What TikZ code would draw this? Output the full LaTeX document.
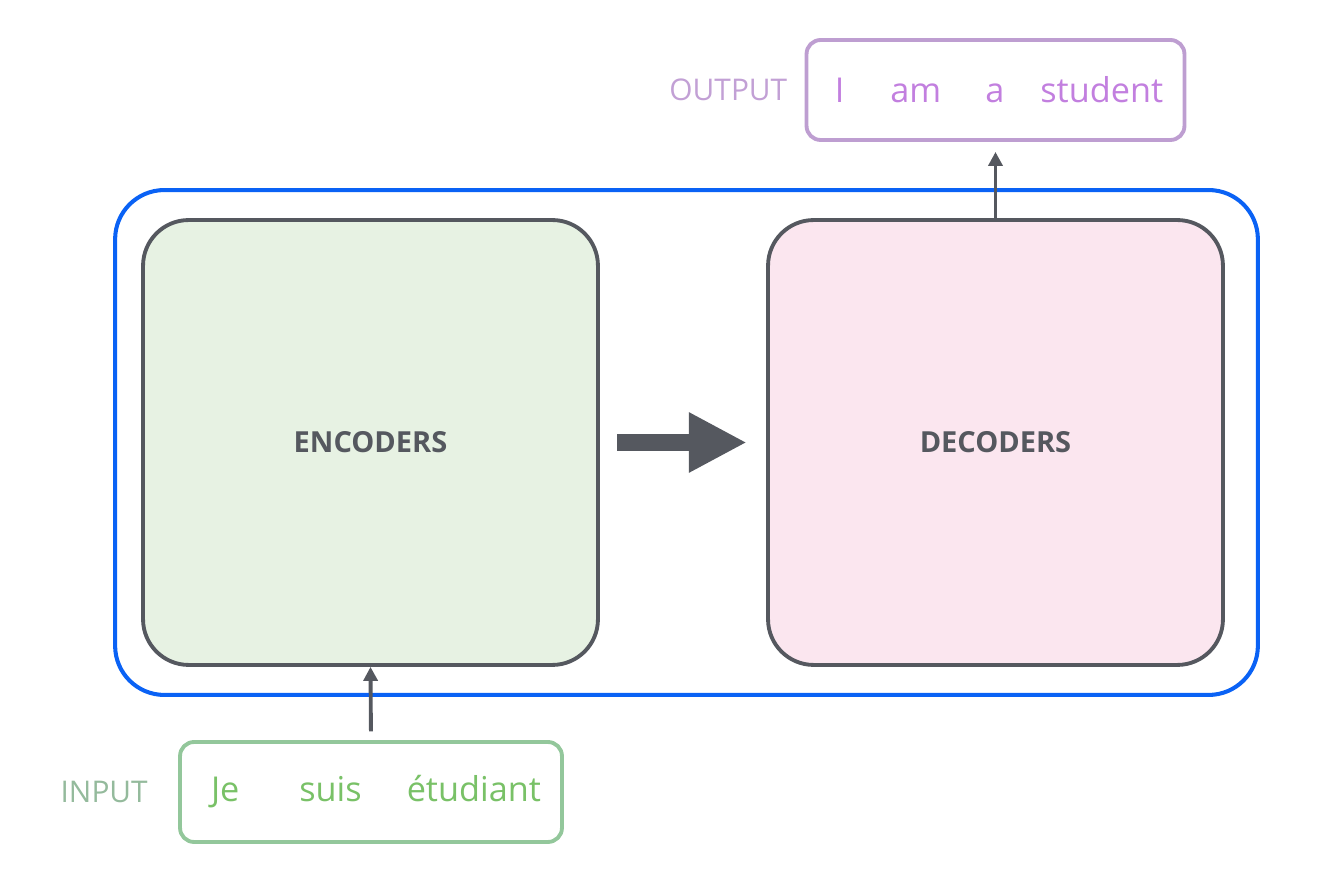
\documentclass[tikz,border=0pt]{standalone}
\usepackage{fontspec}
\setmainfont{Open Sans}
\usepackage{xcolor}
\definecolor{wrapblue}{HTML}{0A62F5}
\definecolor{blockgray}{HTML}{55585F}
\definecolor{encfill}{HTML}{E7F2E3}
\definecolor{decfill}{HTML}{FBE6EF}
\definecolor{ingreen}{HTML}{93C79B}
\definecolor{intext}{HTML}{79C167}
\definecolor{inlabel}{HTML}{94BA9C}
\definecolor{outpurple}{HTML}{BE9ED1}
\definecolor{outtext}{HTML}{C27FDF}
\definecolor{outlabel}{HTML}{C2A0D5}
\usetikzlibrary{arrows.meta,positioning}

\begin{document}
\begin{tikzpicture}[x=0.02cm, y=-0.02cm,
    wrap/.style={rectangle, rounded corners=28pt, draw=wrapblue, line width=2.3pt, minimum width=22.86cm, minimum height=10.1cm},
    block/.style={rectangle, rounded corners=26pt, draw=blockgray, line width=2.2pt, minimum width=9.1cm, minimum height=8.9cm, text=blockgray, font=\fontsize{16.5}{20}\selectfont\bfseries},
    seqbox/.style={rectangle, rounded corners=8pt, line width=2.2pt, minimum height=2cm, inner sep=0pt, font=\fontsize{19.5}{23}\selectfont},
    seqlabel/.style={inner sep=0pt, font=\fontsize{17}{20}\selectfont},
    flow/.style={-{Triangle[length=8pt, width=8pt]}, blockgray, line width=2.2pt},
    bigflow/.style={-{Triangle[length=33pt, width=32pt]}, blockgray, line width=9.6pt}
  ]
    \useasboundingbox (0,0) rectangle (1320,884);

    \node[wrap] (model) at (686.5,442.5) {};
    \node[block, fill=encfill] (enc) at (370.5,442.5) {ENCODERS};
    \node[block, fill=decfill] (dec) at (995.5,442.5) {DECODERS};

    \node[seqbox, draw=ingreen, text=intext, minimum width=7.64cm] (input) at (371,792) {\hspace*{0.2cm}Je\hspace{1.2cm}suis\hspace{0.9cm}étudiant};
    \node[seqlabel, text=inlabel, left=0.6cm of input] (inlbl) {INPUT};

    \node[seqbox, draw=outpurple, text=outtext, minimum width=7.56cm] (output) at (995.5,90) {\hspace*{0.14cm}I\hspace{0.92cm}am\hspace{0.88cm}a\hspace{0.72cm}student};
    \node[seqlabel, text=outlabel, left=0.34cm of output] (outlbl) {OUTPUT};

    \draw[bigflow, shorten <=10pt, shorten >=11pt] (enc.east) -- (dec.west);
    \draw[flow, shorten <=5pt] (input.north) -- (enc.south);
    \draw[flow, shorten >=5.7pt] (dec.north) -- (output.south);
  \end{tikzpicture}
\end{document}
